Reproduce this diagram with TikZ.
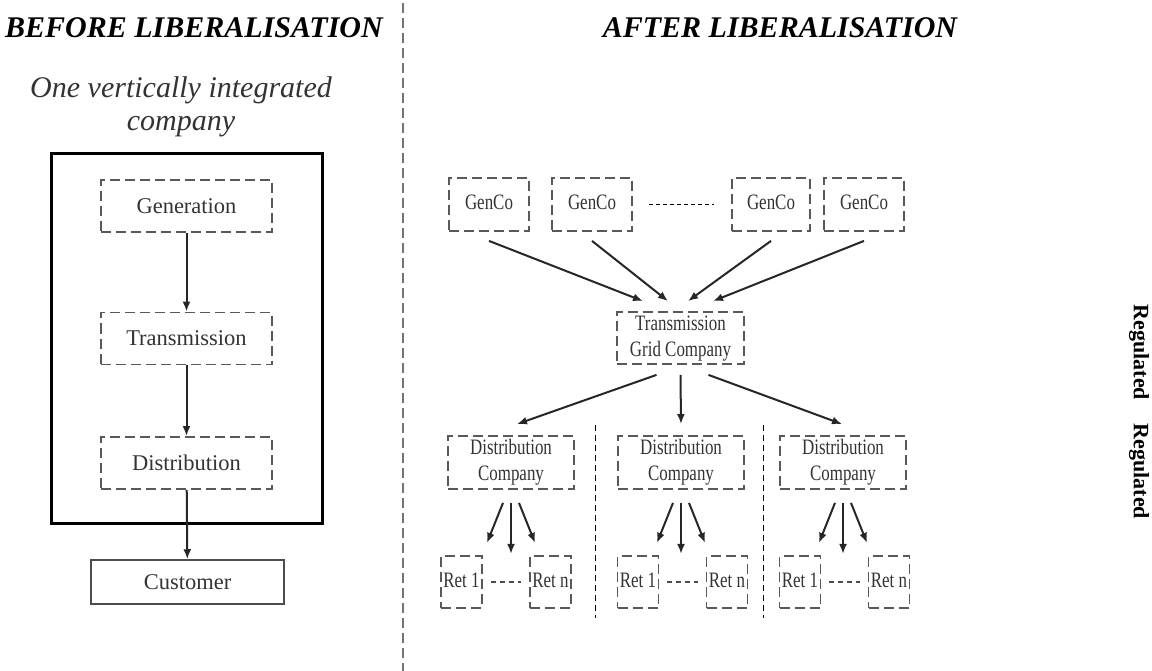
\documentclass[tikz,border=0pt]{standalone}
\usepackage{fontspec}
\setmainfont{Liberation Serif}
\usetikzlibrary{arrows.meta}
\newcommand\narrowtxt[1]{\scalebox{0.77}[1]{\begin{tabular}{@{}c@{}}#1\end{tabular}}}

\begin{document}
\begin{tikzpicture}[x=1pt,y=-1pt,
	dbox/.style={draw=black!65, line width=1.8pt, dash pattern=on 10pt off 5pt, inner sep=0pt, align=center, text=black!80},
	bigtxt/.style={font=\fontsize{22.5}{26}\selectfont},
	smalltxt/.style={font=\fontsize{22}{26}\selectfont},
	headtxt/.style={font=\fontsize{30}{36}\selectfont\bfseries\itshape},
	arr/.style={-{Latex[length=10pt,width=8pt]}, line width=2pt, draw=black!85}]
			%%%%% START %%%%%
			\useasboundingbox (0,0) rectangle (1152,671);
			
			\node[headtxt] (before) at (194,28) {BEFORE LIBERALISATION};
			\node[headtxt] (after) at (780,28) {AFTER LIBERALISATION};
			\draw[line width=2pt, color=black!55, dash pattern=on 10pt off 5pt] (403,3) -- (403,671);
			
			%% before
			\node[font=\fontsize{30}{33}\selectfont\itshape, text=black!80, align=center] (integ) at (181,107) {One vertically integrated\\company};
			\draw[line width=3pt] (51,154) rectangle (322,523);
			
			\node[dbox, bigtxt, minimum width=171pt, minimum height=52pt] (gen) at (186.5,206) {Generation};
			\node[dbox, bigtxt, minimum width=171pt, minimum height=52pt] (trans) at (186.5,338.5) {Transmission};
			\node[dbox, bigtxt, minimum width=171pt, minimum height=52pt] (dist) at (186.5,463) {Distribution};
			\node[draw=black!70, line width=1.5pt, bigtxt, text=black!80, minimum width=193pt, minimum height=44pt, inner sep=0pt] (cust) at (187.5,582) {Customer};
			
			\draw[arr] (gen) -- (trans);
			\draw[arr] (trans) -- (dist);
			\draw[arr] (dist) -- (cust);
			
			%% after
			\node[dbox, smalltxt, minimum width=80pt, minimum height=53pt] (g1) at (489,204.5) {\narrowtxt{GenCo}};
			\node[dbox, smalltxt, minimum width=80pt, minimum height=53pt] (g2) at (592,204.5) {\narrowtxt{GenCo}};
			\node[dbox, smalltxt, minimum width=78pt, minimum height=53pt] (g3) at (771,204.5) {\narrowtxt{GenCo}};
			\node[dbox, smalltxt, minimum width=80pt, minimum height=53pt] (g4) at (864,204.5) {\narrowtxt{GenCo}};
			\draw[line width=0.8pt, dash pattern=on 4pt off 3pt] ([xshift=16pt]g2.east) -- ([xshift=-17pt]g3.west);
			
			\node[dbox, smalltxt, minimum width=127pt, minimum height=52pt] (tgc) at (680.5,338) {\narrowtxt{Transmission\\Grid Company}};
			
			\draw[arr] ([yshift=-9pt]g1.south) -- ([xshift=-37.5pt,yshift=10pt]tgc.north);
			\draw[arr] ([yshift=-9pt]g2.south) -- ([xshift=-12.5pt,yshift=10pt]tgc.north);
			\draw[arr] ([yshift=-9pt]g3.south) -- ([xshift=7.5pt,yshift=10pt]tgc.north);
			\draw[arr] ([yshift=-9pt]g4.south) -- ([xshift=32.5pt,yshift=10pt]tgc.north);
			
			\foreach \n/\x/\m in {1/511/506, 2/681/682.5, 3/843/844.5} {
				\node[dbox, smalltxt, minimum width=126pt, minimum height=53pt] (dc\n) at (\x,462.5) {\narrowtxt{Distribution\\Company}};
				\node[dbox, smalltxt, minimum width=41pt, minimum height=52pt] (rone\n) at (\m-44.5,582) {\narrowtxt{Ret 1}};
				\node[dbox, smalltxt, minimum width=41pt, minimum height=52pt] (rn\n) at (\m+44.5,582) {\narrowtxt{Ret n}};
				\draw[line width=1.3pt, color=black!70, dash pattern=on 5pt off 4pt] ([xshift=8pt]rone\n.east) -- ([xshift=-8pt]rn\n.west);
				\draw[arr] ([xshift=-8pt,yshift=-13pt]dc\n.south) -- ([xshift=-24pt,yshift=-53pt]dc\n.south);
				\draw[arr] ([yshift=-13pt]dc\n.south) -- ([yshift=-64pt]dc\n.south);
				\draw[arr] ([xshift=8pt,yshift=-13pt]dc\n.south) -- ([xshift=24pt,yshift=-53pt]dc\n.south);
			}
			
			\draw[arr] ([xshift=-24pt,yshift=-10pt]tgc.south) -- ([xshift=6pt,yshift=11pt]dc1.north);
			\draw[arr] ([yshift=-10pt]tgc.south) -- ([yshift=11pt]dc2.north);
			\draw[arr] ([xshift=28pt,yshift=-10pt]tgc.south) -- ([xshift=-1pt,yshift=11pt]dc3.north);
			
			\draw[line width=1pt, dash pattern=on 6pt off 4pt] (595,425) -- (595,618);
			\draw[line width=1pt, dash pattern=on 6pt off 4pt] (763,425) -- (763,618);
			
			\node[rotate=-90, font=\fontsize{22}{26}\selectfont\bfseries] (regtgc) at (1139,352.5) {Regulated};
			\node[rotate=-90, font=\fontsize{22}{26}\selectfont\bfseries] (regdc) at (1139,471.5) {Regulated};
			%%%%% END %%%%%
\end{tikzpicture}
\end{document}
